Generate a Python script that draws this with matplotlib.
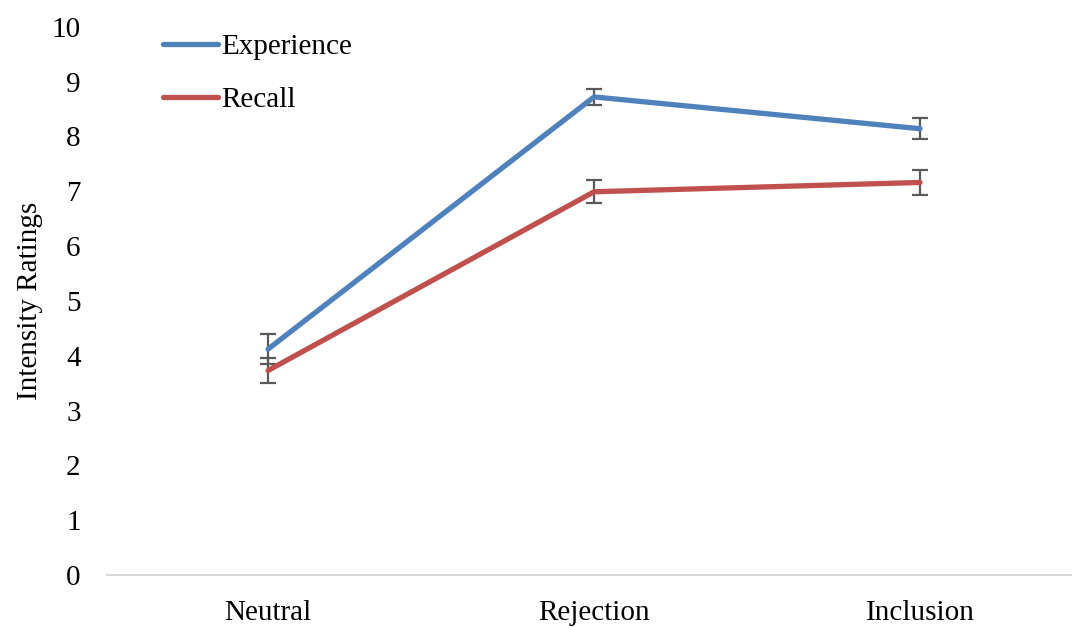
import numpy as np
import matplotlib.pyplot as plt

plt.rcParams['font.family'] = ['Liberation Serif', 'DejaVu Serif']

# condition means and standard errors
conditions = ['Neutral', 'Rejection', 'Inclusion']
experience = [4.12, 8.72, 8.14]
experience_err = [0.27, 0.15, 0.19]
recall = [3.73, 6.99, 7.16]
recall_err = [0.23, 0.21, 0.22]
yticks = list(range(0, 11))

fig = plt.figure(figsize=(10.72, 6.28), dpi=100)
ax = fig.add_axes([0.0998, 0.0844, 0.9002, 0.873])

x = np.arange(len(conditions))
ax.plot(x, experience, color='#4F81BD', lw=3.8, label='Experience',
        solid_capstyle='round', zorder=3)
ax.plot(x, recall, color='#C0504D', lw=3.8, label='Recall',
        solid_capstyle='round', zorder=3)
ax.errorbar(x, experience, yerr=experience_err, fmt='none', ecolor='#595959',
            elinewidth=1.6, capsize=6, capthick=1.6, zorder=2)
ax.errorbar(x, recall, yerr=recall_err, fmt='none', ecolor='#595959',
            elinewidth=1.6, capsize=6, capthick=1.6, zorder=2)

ax.set_xlim(-0.494, 2.466)
ax.set_ylim(0, 10)
ax.set_xticks(x)
ax.set_xticklabels(conditions)
ax.set_yticks(yticks)
ax.tick_params(axis='both', length=0, labelsize=21)
ax.tick_params(axis='y', pad=19)
ax.tick_params(axis='x', pad=18)
ax.set_ylabel('Intensity Ratings', fontsize=21, labelpad=6)

for side in ['top', 'right', 'left']:
    ax.spines[side].set_visible(False)
ax.spines['bottom'].set_color('#D9D9D9')
ax.spines['bottom'].set_linewidth(1.5)

leg = ax.legend(loc='upper left', bbox_to_anchor=(0.0456, 1.008), frameon=False,
                fontsize=21, handlelength=1.9, handletextpad=0.12,
                labelspacing=0.9, borderaxespad=0.0)

fig.savefig('out.png', dpi=100)
